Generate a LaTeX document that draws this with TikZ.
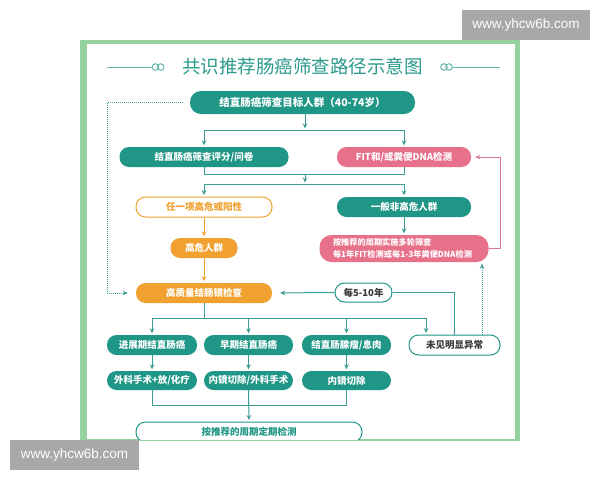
\documentclass[tikz,border=0pt]{standalone}
\usepackage{fontspec}
\setmainfont{Liberation Sans}
\newfontfamily\cjk{Noto Sans CJK SC}
\usetikzlibrary{arrows.meta}
\definecolor{teal1}{HTML}{1F9686}
\definecolor{pink1}{HTML}{E7708A}
\definecolor{orange1}{HTML}{F0A12F}
\definecolor{lineteal}{HTML}{3A9E92}
\definecolor{linepink}{HTML}{D27A8E}
\definecolor{framegreen}{HTML}{96D2A0}
\definecolor{wmgray}{HTML}{A8A8A8}
\definecolor{darktext}{HTML}{3A3A3A}
\definecolor{titleteal}{HTML}{2A9A8B}
\begin{document}
\begin{tikzpicture}[x=1pt,y=-1pt,
  box/.style={rounded corners=9.5pt, minimum height=20pt, inner sep=0pt,
    font=\cjk\bfseries\fontsize{9.5}{11}\selectfont, anchor=center},
  tealbox/.style={box, fill=teal1, text=white},
  pinkbox/.style={box, fill=pink1, text=white},
  orangebox/.style={box, fill=orange1, text=white},
  orangeout/.style={box, fill=white, draw=orange1, line width=1pt, text=orange1},
  tealout/.style={box, fill=white, draw=teal1, line width=1pt, text=darktext},
  ln/.style={draw=lineteal, line width=1pt},
  arr/.style={ln, -{Stealth[length=5pt,width=4.5pt]}, shorten >=1.5pt},
  oarr/.style={draw=orange1, line width=1pt, -{Stealth[length=5pt,width=4.5pt]}, shorten >=1.5pt},
  parr/.style={draw=linepink, line width=1pt, -{Stealth[length=5pt,width=4.5pt]}, shorten >=4pt},
  dotarr/.style={draw=lineteal, line width=1pt, densely dotted, -{Stealth[length=5pt,width=4.5pt]}},
  orn/.style={draw=titleteal!70, line width=1pt},
  wm/.style={fill=wmgray, text=white, inner sep=0pt, font=\fontsize{13.5}{15}\selectfont}
]
\useasboundingbox (0,0) rectangle (600,480);
\fill[white] (0,0) rectangle (600,480);
% frame
\fill[framegreen] (80,40) rectangle (520,441);
\fill[white] (87,44) rectangle (515,439);
% title
\node[font=\cjk\fontsize{18.5}{20}\selectfont, text=titleteal] (title) at (302.5,66) {共识推荐肠癌筛查路径示意图};
\draw[orn] (107,67) -- (152.3,67);
\draw[orn] (155.6,67) circle[radius=3.3pt];
\draw[orn] (160.6,67) circle[radius=3.3pt];
\draw[orn] (452.7,67) -- (500,67);
\draw[orn] (444,67) circle[radius=3.3pt];
\draw[orn] (449,67) circle[radius=3.3pt];

% nodes
\node[tealbox, minimum width=225pt, minimum height=23pt, rounded corners=11pt,
  font=\cjk\bfseries\fontsize{10.5}{12}\selectfont] (top) at (302.5,102.5) {结直肠癌筛查目标人群（40-74岁）};
\node[tealbox, minimum width=169pt] (score) at (204,157) {结直肠癌筛查评分/问卷};
\node[pinkbox, minimum width=134pt] (fit) at (404,157) {FIT和/或粪便DNA检测};
\node[orangeout, minimum width=136pt] (anyhigh) at (204,207) {任一项高危或阳性};
\node[tealbox, minimum width=134pt] (general) at (404,207) {一般非高危人群};
\node[orangebox, minimum width=67pt] (highrisk) at (204,248) {高危人群};
\node[pinkbox, minimum width=169pt, minimum height=27pt, rounded corners=12pt,
  font=\cjk\bfseries\fontsize{8.2}{11.5}\selectfont, align=left, text width=142pt] (multi) at (404,248.5)
  {按推荐的周期实施多轮筛查\\每1年FIT检测或每1-3年粪便DNA检测};
\node[orangebox, minimum width=136pt] (colono) at (204,293) {高质量结肠镜检查};
\node[tealout, minimum width=57pt, minimum height=19pt, text=darktext] (every) at (363.5,292.5) {每5-10年};
\node[tealbox, minimum width=90pt] (adv) at (152,345) {进展期结直肠癌};
\node[tealbox, minimum width=89pt] (early) at (248.5,345) {早期结直肠癌};
\node[tealbox, minimum width=89pt] (aden) at (346.5,345) {结直肠腺瘤/息肉};
\node[tealout, minimum width=91pt] (normal) at (454.5,345) {未见明显异常};
\node[tealbox, minimum width=90pt, minimum height=19pt] (surg) at (152,380.5) {外科手术+放/化疗};
\node[tealbox, minimum width=89pt, minimum height=19pt] (endosurg) at (248.5,380.5) {内镜切除/外科手术};
\node[tealbox, minimum width=89pt, minimum height=19pt] (endo) at (346.5,380.5) {内镜切除};
\begin{scope}
\clip (87,44) rectangle (515,439);
\node[tealout, minimum width=226pt, text=teal1] (periodic) at (249,432) {按推荐的周期定期检测};
\end{scope}

% junctions
\coordinate (j1) at (305,130);
\coordinate (j2) at (305,174);
\coordinate (j3) at (305,184);
\coordinate (j4) at (204,318);
\coordinate (j5) at (426,318);
\coordinate (j6) at (249,405);
\coordinate (d1) at (107,102.5);
\coordinate (d2) at (482,300);
\coordinate (p1) at (500,200);

% connectors
\draw[arr] (top.south -| j1) -- (j1);
\draw[ln] (score.north |- j1) -- (fit.north |- j1);
\draw[arr] (score.north |- j1) -- (score.north);
\draw[arr] (fit.north |- j1) -- (fit.north);
\draw[ln] (score.south) -- (score.south |- j2) -- (fit.south |- j2) -- (fit.south);
\draw[arr] (j2) -- (j3);
\draw[ln] (anyhigh.north |- j3) -- (general.north |- j3);
\draw[arr] (anyhigh.north |- j3) -- (anyhigh.north);
\draw[arr] (general.north |- j3) -- (general.north);
\draw[oarr] (anyhigh.south) -- (highrisk.north);
\draw[oarr] (highrisk.south) -- (colono.north);
\draw[arr] (general.south) -- (multi.north);
\draw[parr] (multi.east) -- (multi.east -| p1) -- (fit.east -| p1) -- (fit.east);
\draw[dotarr, shorten <=7pt, shorten >=8pt] (top.west) -- (d1) -- (d1 |- colono.west) -- (colono.west);
\draw[dotarr, shorten >=1.5pt] (normal.north -| d2) -- (multi.south -| d2);
\draw[arr, shorten >=8pt] (every.west) -- (colono.east);
\draw[ln] (normal.north) -- (normal.north |- every.east) -- (every.east);
\draw[ln] (colono.south) -- (j4);
\draw[ln] (adv.north |- j4) -- (j5);
\draw[arr] (adv.north |- j4) -- (adv.north);
\draw[arr] (early.north |- j4) -- (early.north);
\draw[arr] (aden.north |- j4) -- (aden.north);
\draw[arr] (j5) -- (j5 |- normal.north);
\draw[arr] (adv.south) -- (surg.north);
\draw[arr] (early.south) -- (endosurg.north);
\draw[arr] (aden.south) -- (endo.north);
\draw[ln] (surg.south) -- (surg.south |- j6) -- (endo.south |- j6) -- (endo.south);
\draw[arr] (endosurg.south) -- (periodic.north);

% watermarks
\node[wm, minimum width=128pt, minimum height=30pt] (wm1) at (526,25) {www.yhcw6b.com};
\node[wm, minimum width=129pt, minimum height=30pt] (wm2) at (74.5,455) {www.yhcw6b.com};
\end{tikzpicture}
\end{document}
